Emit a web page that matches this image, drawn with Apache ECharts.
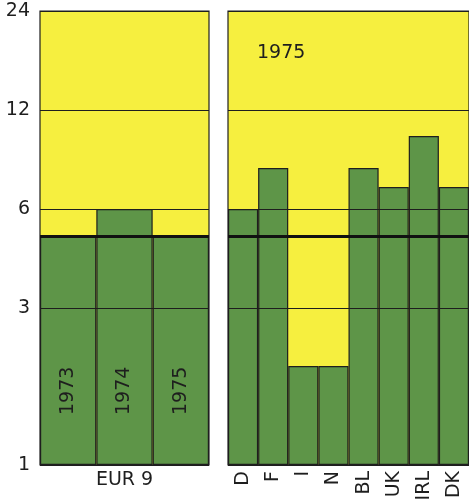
<!DOCTYPE html>
<html><head><meta charset="utf-8">
<script src="https://cdn.jsdelivr.net/npm/echarts@6/dist/echarts.min.js"></script>
<style>html,body{margin:0;padding:0;background:#fff}#c{width:469px;height:504px}</style>
</head><body><div id="c"></div>
<script>
const eurYears = ['1973', '1974', '1975'];
const eurValues = [4.95, 6, 4.95];
const countries = ['D', 'F', 'I', 'N', 'BL', 'UK', 'IRL', 'DK'];
const countryValues = [6, 8, 2, 2, 8, 7, 10, 7];
const yTicks = [1, 3, 6, 12, 24];
const eurLevel = 4.95;
const panelTitle = '1975';
const eurName = 'EUR 9';

const FONT = 'DejaVu Sans';
const YELLOW = '#f6ef3f';
const GREEN = '#5e9548';
const INK = '#1e1e1e';

const chart = echarts.init(document.getElementById('c'), null, {renderer: 'canvas'});

function gridLines(withLabels) {
  const data = yTicks.map(v => ({yAxis: v, lineStyle: {width: 1.1, color: INK, type: 'solid'}}));
  data.push({yAxis: eurLevel, lineStyle: {width: 3.2, color: '#111', type: 'solid'}, label: {show: false}});
  return {
    silent: true, symbol: ['none', 'none'], animation: false,
    lineStyle: {type: 'solid'},
    label: withLabels ? {
      show: true, position: 'start', distance: 10, color: INK,
      fontFamily: FONT, fontSize: 19, formatter: p => String(p.value)
    } : {show: false},
    data
  };
}

const yAxisBase = {
  type: 'log', logBase: 2, min: 1, max: 24,
  axisLabel: {show: false}, splitLine: {show: false},
  axisLine: {show: false}, axisTick: {show: false}
};

chart.setOption({
  animation: false,
  title: {text: panelTitle, left: 257, top: 44, padding: 0,
    textStyle: {fontFamily: FONT, fontSize: 19, fontWeight: 'normal', color: INK}},
  grid: [
    {left: 40, top: 11, width: 169, bottom: 39, show: true, backgroundColor: YELLOW, borderColor: INK, borderWidth: 1.2},
    {left: 228, top: 11, width: 242, bottom: 39, show: true, backgroundColor: YELLOW, borderColor: INK, borderWidth: 1.2}
  ],
  xAxis: [
    {type: 'category', gridIndex: 0, data: eurYears, axisLabel: {show: false},
     axisTick: {show: false}, axisLine: {show: false},
     name: eurName, nameLocation: 'middle', nameGap: 6,
     nameTextStyle: {fontFamily: FONT, fontSize: 19, color: INK, verticalAlign: 'top'}},
    {type: 'category', gridIndex: 1, data: countries,
     axisTick: {show: false}, axisLine: {show: false},
     axisLabel: {rotate: 90, margin: 6, fontFamily: FONT, fontSize: 19, color: INK, interval: 0}}
  ],
  yAxis: [
    Object.assign({gridIndex: 0}, yAxisBase),
    Object.assign({gridIndex: 1}, yAxisBase)
  ],
  series: [
    {type: 'bar', xAxisIndex: 0, yAxisIndex: 0, data: eurValues, barCategoryGap: '0%',
     itemStyle: {color: GREEN, borderColor: INK, borderWidth: 1.2},
     label: {show: true, position: 'insideBottom', distance: 50, rotate: 90,
       align: 'left', verticalAlign: 'middle',
       fontFamily: FONT, fontSize: 19, color: INK, formatter: p => p.name},
     markLine: gridLines(true)},
    {type: 'bar', xAxisIndex: 1, yAxisIndex: 1, data: countryValues, barCategoryGap: '0%',
     itemStyle: {color: GREEN, borderColor: INK, borderWidth: 1.2},
     markLine: gridLines(false)}
  ]
});
</script></body></html>
